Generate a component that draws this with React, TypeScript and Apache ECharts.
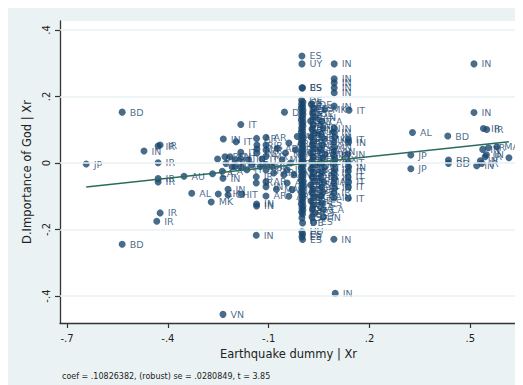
import React, { useEffect, useRef } from "react";
import * as echarts from "echarts";

type Pt = [number, number, string];

const xTickValues = [-0.7, -0.4, -0.1, 0.2, 0.5];
const xTickLabels = ["-.7", "-.4", "-.1", ".2", ".5"];
const yTickValues = [-0.4, -0.2, 0, 0.2, 0.4];
const yTickLabels = ["-.4", "-.2", "0", ".2", ".4"];

const fitX = [-0.643, 0.615];
const fitY = [-0.072, 0.064];

const outlierPoints: Pt[] = [
  [-0.643, -0.003, "JP"], [-0.536, 0.153, "BD"], [-0.536, -0.244, "BD"],
  [-0.471, 0.036, "IN"], [-0.429, 0.051, "IR"], [-0.423, 0.054, "IR"],
  [-0.429, 0.001, "IR"], [-0.429, -0.047, "IR"], [-0.429, -0.057, "IR"],
  [-0.352, -0.04, "AU"], [-0.329, -0.091, "AL"], [-0.423, -0.15, "IR"],
  [-0.433, -0.175, "IR"], [-0.271, -0.117, "MK"], [-0.25, -0.093, "CH"],
  [-0.221, -0.079, "IN"], [-0.221, -0.096, "CH"], [-0.18, -0.094, "IT"],
  [-0.136, -0.123, "IN"], [-0.136, -0.129, "IN"], [-0.137, -0.217, "IN"],
  [-0.236, -0.455, "VN"], [0.098, -0.392, "IN"], [0.094, -0.229, "IN"],
  [0.063, -0.163, "IN"], [0.137, -0.106, "IT"], [-0.108, -0.099, "AR"],
  [-0.183, 0.116, "IT"], [-0.235, 0.072, "IN"], [-0.197, 0.064, "IT"],
  [-0.136, 0.074, "AR"], [-0.183, 0.032, "IT"], [-0.252, 0.012, "PL"],
];

const topPoints: Pt[] = [
  [-0.001, 0.322, "ES"], [-0.001, 0.298, "UY"], [0.095, 0.298, "IN"],
  [0.095, 0.253, "IN"], [0.095, 0.241, "IN"], [0.095, 0.226, "IN"],
  [0.095, 0.211, "IN"], [-0.001, 0.226, "BS"], [0.001, 0.226, "ES"],
  [0.095, 0.171, "IN"], [0.139, 0.159, "IT"], [0.067, 0.161, "MK"],
  [-0.053, 0.153, "DE"],
];

const rightPoints: Pt[] = [
  [0.511, 0.298, "IN"], [0.511, 0.152, "IN"], [0.328, 0.092, "AL"],
  [0.433, 0.081, "BD"], [0.539, 0.104, "IR"], [0.549, 0.101, "IR"],
  [0.323, 0.024, "JP"], [0.323, -0.017, "JP"], [0.435, 0.009, "BD"],
  [0.435, -0.001, "BD"], [0.519, -0.008, "IN"], [0.537, 0.041, "IN"],
  [0.554, 0.046, "IR"], [0.579, 0.049, "MA"], [0.544, 0.019, "IR"],
  [0.548, 0.025, "IN"], [0.534, -0.001, "IR"], [0.53, 0.007, "IN"],
  [0.615, 0.016, "AU"],
];

const leftCluster: Pt[] = [
  [-0.23, 0.019, "RU"], [-0.227, -0.001, "SK"], [-0.215, 0.019, "CN"],
  [-0.209, -0.011, "IT"], [-0.199, 0.009, "IT"], [-0.2, -0.011, "IT"],
  [-0.183, 0.013, "IT"], [-0.183, -0.013, "IT"], [-0.267, -0.032, "CA"],
  [-0.236, -0.046, "IN"], [-0.238, -0.025, "CA"], [-0.135, 0.042, "MA"],
  [-0.135, 0.054, "IR"], [-0.135, 0.03, "IN"], [-0.137, -0.041, "IR"],
  [-0.137, -0.06, "IR"], [-0.108, 0.077, "AR"], [-0.108, 0.054, "IR"],
  [-0.108, 0.039, "IR"], [-0.108, 0.02, "MX"], [-0.108, -0.006, "IR"],
  [-0.108, -0.021, "IR"], [-0.108, -0.056, "AR"], [-0.108, -0.071, "IN"],
  [-0.074, 0.044, "AR"], [-0.077, -0.079, "MA"], [-0.09, -0.01, "IR"],
  [-0.085, -0.03, "AR"], [-0.06, 0.01, "MA"], [-0.055, -0.035, "AR"],
  [-0.045, -0.06, "AR"], [-0.16, 0.01, "IN"], [-0.165, -0.02, "IT"],
  [-0.15, -0.005, "IT"], [-0.125, -0.01, "IN"], [-0.12, 0.012, "IT"],
  [-0.04, 0.06, "AR"], [-0.05, 0.03, "MA"], [-0.035, 0.0, "AR"],
  [-0.045, -0.02, "IR"], [-0.03, -0.08, "MA"], [-0.04, -0.1, "AR"],
  [-0.02, 0.04, "IR"], [-0.025, -0.035, "IN"], [-0.015, 0.08, "AR"],
];

const columnZero: Pt[] = [
  [-0.002, 0.189, "DE"], [0.002, 0.183, "ES"], [-0.002, 0.177, "SE"], [0.001, 0.171, "ES"],
  [-0.003, 0.165, "DE"], [0.002, 0.159, "HU"], [-0.001, 0.153, "ES"], [0.002, 0.147, "ES"],
  [-0.002, 0.141, "DE"], [0.001, 0.135, "SE"], [-0.003, 0.129, "PE"], [0.002, 0.123, "ES"],
  [-0.001, 0.117, "DE"], [0.002, 0.111, "ES"], [-0.002, 0.105, "HU"], [0.001, 0.099, "SE"],
  [-0.003, 0.093, "ES"], [0.002, 0.087, "DE"], [-0.001, 0.081, "ES"], [0.002, 0.075, "CA"],
  [-0.002, 0.069, "ES"], [0.001, 0.063, "DE"], [-0.003, 0.057, "SE"], [0.002, 0.051, "ES"],
  [-0.001, 0.045, "HU"], [0.002, 0.039, "ES"], [-0.002, 0.033, "DE"], [0.001, 0.027, "ES"],
  [-0.003, 0.021, "PE"], [0.002, 0.015, "ES"], [-0.001, 0.009, "DE"], [0.002, 0.003, "SE"],
  [-0.002, -0.003, "ES"], [0.001, -0.009, "ES"], [-0.003, -0.015, "DE"], [0.002, -0.021, "HU"],
  [-0.001, -0.027, "ES"], [0.002, -0.033, "ES"], [-0.002, -0.039, "SE"], [0.001, -0.045, "DE"],
  [-0.003, -0.051, "ES"], [0.002, -0.057, "CA"], [-0.001, -0.063, "ES"], [0.002, -0.069, "DE"],
  [-0.002, -0.075, "ES"], [0.001, -0.081, "SE"], [-0.003, -0.087, "ES"], [0.002, -0.093, "DE"],
  [-0.001, -0.099, "HU"], [0.002, -0.105, "ES"], [-0.002, -0.111, "ES"], [0.001, -0.117, "DE"],
  [-0.003, -0.123, "ES"], [0.002, -0.129, "SE"], [-0.001, -0.135, "ES"], [0.002, -0.141, "ES"],
  [-0.002, -0.147, "CA"], [0.001, -0.153, "ES"], [-0.001, -0.165, "ES"], [0.001, -0.18, "DE"],
  [-0.001, -0.207, "HU"], [0.001, -0.214, "ES"], [-0.001, -0.222, "ES"], [0.001, -0.23, "ES"],
];

const columnOne: Pt[] = [
  [0.027, 0.177, "DE"], [0.035, 0.165, "ES"], [0.031, 0.15, "GE"], [0.038, 0.138, "AN"],
  [0.025, 0.126, "DE"], [0.033, 0.114, "IN"], [0.029, 0.102, "AN"], [0.037, 0.09, "ES"],
  [0.026, 0.078, "DE"], [0.034, 0.066, "GE"], [0.03, 0.054, "IN"], [0.038, 0.042, "ES"],
  [0.025, 0.03, "DE"], [0.033, 0.018, "MX"], [0.029, 0.006, "ES"], [0.037, -0.006, "DE"],
  [0.026, -0.018, "IN"], [0.034, -0.03, "ES"], [0.03, -0.042, "DE"], [0.038, -0.054, "GE"],
  [0.025, -0.066, "ES"], [0.033, -0.078, "DE"], [0.029, -0.09, "ES"], [0.037, -0.102, "CA"],
  [0.026, -0.114, "DE"], [0.034, -0.126, "ES"], [0.03, -0.138, "CA"], [0.038, -0.15, "ES"],
  [0.029, -0.162, "DE"], [0.033, -0.177, "ES"],
];

const columnTwo: Pt[] = [
  [0.058, 0.126, "CA"], [0.062, 0.105, "IN"], [0.056, 0.087, "IN"], [0.065, 0.072, "MK"],
  [0.06, 0.054, "CA"], [0.055, 0.039, "MA"], [0.068, 0.027, "MK"], [0.062, 0.015, "MX"],
  [0.057, 0.0, "IR"], [0.066, -0.012, "IT"], [0.06, -0.027, "IR"], [0.055, -0.042, "IN"],
  [0.064, -0.057, "MA"], [0.058, -0.072, "IR"], [0.062, -0.087, "IT"], [0.056, -0.1, "CA"],
  [0.06, -0.12, "ES"], [0.063, -0.14, "CA"],
];

const columnThree: Pt[] = [
  [0.095, 0.105, "IN"], [0.094, 0.093, "IN"], [0.096, 0.078, "IN"], [0.094, 0.063, "IN"],
  [0.096, 0.048, "IN"], [0.095, 0.036, "AN"], [0.093, 0.024, "IN"], [0.097, 0.01, "MX"],
  [0.094, -0.003, "IN"], [0.096, -0.018, "IT"], [0.094, -0.03, "IN"], [0.096, -0.045, "IN"],
  [0.094, -0.06, "IR"], [0.096, -0.075, "IN"], [0.094, -0.09, "IR"], [0.095, -0.105, "IN"],
];

const columnFour: Pt[] = [
  [0.137, 0.072, "IT"], [0.138, 0.063, "IN"], [0.136, 0.027, "IN"], [0.137, 0.003, "IT"],
  [0.138, -0.012, "IN"], [0.137, -0.024, "IT"], [0.136, -0.042, "IT"], [0.138, -0.057, "IT"],
  [0.137, -0.072, "IT"],
];

const NAVY = "#1a476f";
const BG = "#eaf2f3";
const FONT = "DejaVu Sans";

function fmt(values: number[], labels: string[]) {
  return (v: number) => {
    let best = 0;
    for (let i = 1; i < values.length; i++) {
      if (Math.abs(values[i] - v) < Math.abs(values[best] - v)) best = i;
    }
    return labels[best];
  };
}

export default function App() {
  const ref = useRef<HTMLDivElement>(null);
  useEffect(() => {
    document.documentElement.style.overflow = "hidden";
    const chart = echarts.init(ref.current!, null, { renderer: "svg" });
    const all = [
      ...outlierPoints, ...topPoints, ...rightPoints, ...leftCluster,
      ...columnZero, ...columnOne, ...columnTwo, ...columnThree, ...columnFour,
    ];
    chart.setOption({
      animation: false,
      backgroundColor: BG,
      grid: { left: 52, top: 13, width: 457, height: 302, show: true, backgroundColor: "#ffffff", borderWidth: 0 },
      xAxis: {
        type: "value", min: -0.721, max: 0.639,
        axisLine: { show: true, onZero: false, lineStyle: { color: "#333", width: 1.3 } },
        axisTick: { show: true, customValues: xTickValues, length: 5, lineStyle: { color: "#333", width: 1.2 } },
        axisLabel: { customValues: xTickValues, formatter: fmt(xTickValues, xTickLabels), fontSize: 10, fontFamily: FONT, color: "#222", margin: 10 },
        splitLine: { show: false },
        name: "Earthquake dummy | Xr", nameLocation: "middle", nameGap: 24,
        nameTextStyle: { fontSize: 11.5, fontFamily: FONT, color: "#222" },
      },
      yAxis: {
        type: "value", min: -0.481, max: 0.427,
        axisLine: { show: true, onZero: false, lineStyle: { color: "#333", width: 1.3 } },
        axisTick: { show: true, customValues: yTickValues, length: 5, lineStyle: { color: "#333", width: 1.2 } },
        axisLabel: { customValues: yTickValues, formatter: fmt(yTickValues, yTickLabels), rotate: 90, fontSize: 10, fontFamily: FONT, color: "#222", margin: 9 },
        splitLine: { show: false },
        name: "D.Importance of God | Xr", nameLocation: "middle", nameGap: 22,
        nameTextStyle: { fontSize: 11.5, fontFamily: FONT, color: "#222" },
      },
      graphic: [
        {
          type: "text", left: 54, top: 364,
          style: { text: "coef = .10826382, (robust) se = .0280849, t = 3.85", fontSize: 8, fontFamily: FONT, fill: "#222" },
        },
      ],
      series: [
        {
          type: "line", data: [], z: 1, silent: true,
          markLine: {
            silent: true, symbol: "none", label: { show: false },
            lineStyle: { color: BG, width: 1.6, type: "solid" },
            data: yTickValues.map((v) => ({ yAxis: v })),
          },
        },
        {
          type: "scatter", z: 3,
          data: all.map((p) => ({ value: [p[0], p[1]], name: p[2] })),
          symbol: "circle", symbolSize: 7,
          itemStyle: { color: NAVY },
          label: {
            show: true, position: "right", distance: 4,
            formatter: (p: any) => p.name,
            fontSize: 9.5, fontFamily: FONT, color: NAVY,
          },
        },
        {
          type: "line", z: 4, symbol: "none",
          data: fitX.map((x, i) => [x, fitY[i]]),
          lineStyle: { color: "#2b6b5c", width: 1.5 },
        },
      ],
    });
    return () => chart.dispose();
  }, []);
  return <div ref={ref} style={{ width: 515, height: 377 }} />;
}
